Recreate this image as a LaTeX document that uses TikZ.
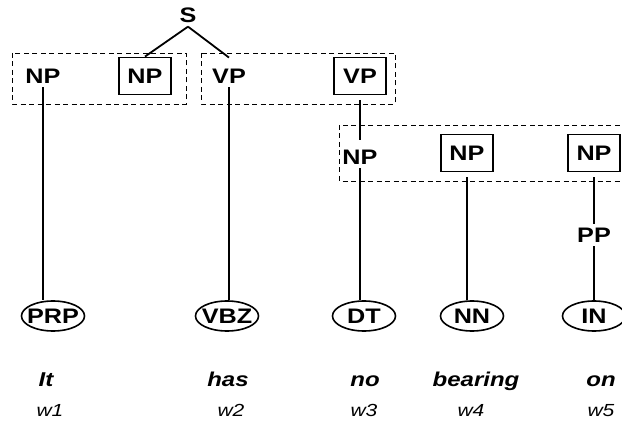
\documentclass[tikz,border=0pt]{standalone}
\usepackage{fontspec}
\setmainfont{Liberation Sans}[FakeStretch=1.2]
\usetikzlibrary{shapes.geometric}

% tag text takes no width, so the ellipse keeps its fixed size
\newcommand{\tagtext}[1]{\makebox[0pt]{#1}}

\begin{document}
\begin{tikzpicture}[x=1pt, y=-1pt,
  cat/.style={font=\bfseries\fontsize{21}{24}\selectfont, inner sep=4pt},
  headbox/.style={cat, draw, line width=1.9pt, minimum width=52pt, minimum height=37pt, inner sep=0pt},
  postag/.style={cat, draw, ellipse, line width=1.6pt, minimum width=63pt, minimum height=30pt, inner sep=0pt},
  word/.style={font=\bfseries\itshape\fontsize{20}{24}\selectfont, anchor=base},
  idx/.style={font=\itshape\fontsize{17.5}{20}\selectfont, anchor=base},
  group/.style={draw, dash pattern=on 5pt off 3.5pt, line width=0.9pt},
  branch/.style={line width=1.8pt}]
  \useasboundingbox (0,0) rectangle (622,422);

  % dashed groups
  \draw[group] (12,53) rectangle (186,104);
  \draw[group] (201,53) rectangle (395,104);
  \draw[group] (339,125) rectangle (640,181);

  % tree nodes
  \node[cat] (s) at (188,15) {S};
  \node[cat] (np1) at (43,76) {NP};
  \node[headbox] (npb1) at (145,76) {NP};
  \node[cat] (vp1) at (229,76) {VP};
  \node[headbox] (vpb) at (360,76) {VP};
  \node[cat] (np2) at (360,157) {NP};
  \node[headbox] (npb2) at (467,153) {NP};
  \node[headbox] (npb3) at (594,153) {NP};
  \node[cat] (pp) at (594,235) {PP};

  % part-of-speech tags
  \node[postag] (prp) at (53,316) {\tagtext{PRP}};
  \node[postag] (vbz) at (227,316) {\tagtext{VBZ}};
  \node[postag] (dt) at (364,316) {\tagtext{DT}};
  \node[postag] (nn) at (472,316) {\tagtext{NN}};
  \node[postag] (in) at (594,316) {\tagtext{IN}};

  % branches
  \draw[branch] (s.south) -- (npb1.north);
  \draw[branch] (s.south) -- ([yshift=7pt]vp1.north);
  \draw[branch] (np1.south) -- (np1 |- prp.north);
  \draw[branch] (vp1.south) -- (vp1 |- vbz.north);
  \draw[branch, shorten <=5pt] (vpb.south) -- ([yshift=6pt]np2.north);
  \draw[branch] (np2.south) -- (np2 |- dt.north);
  \draw[branch, shorten <=5pt] (npb2.south) -- (npb2 |- nn.north);
  \draw[branch, shorten <=5pt] (npb3.south) -- (pp.north);
  \draw[branch] (pp.south) -- (pp |- in.north);

  % words and their indices
  \node[word] (w1) at (46,387) {It};
  \node[word] (w2) at (228,387) {has};
  \node[word] (w3) at (365,387) {no};
  \node[word] (w4) at (476,387) {bearing};
  \node[word] (w5) at (601,387) {on};
  \node[idx] (i1) at (50,417) {w1};
  \node[idx] (i2) at (231,417) {w2};
  \node[idx] (i3) at (364,417) {w3};
  \node[idx] (i4) at (471,417) {w4};
  \node[idx] (i5) at (601,417) {w5};
\end{tikzpicture}
\end{document}
